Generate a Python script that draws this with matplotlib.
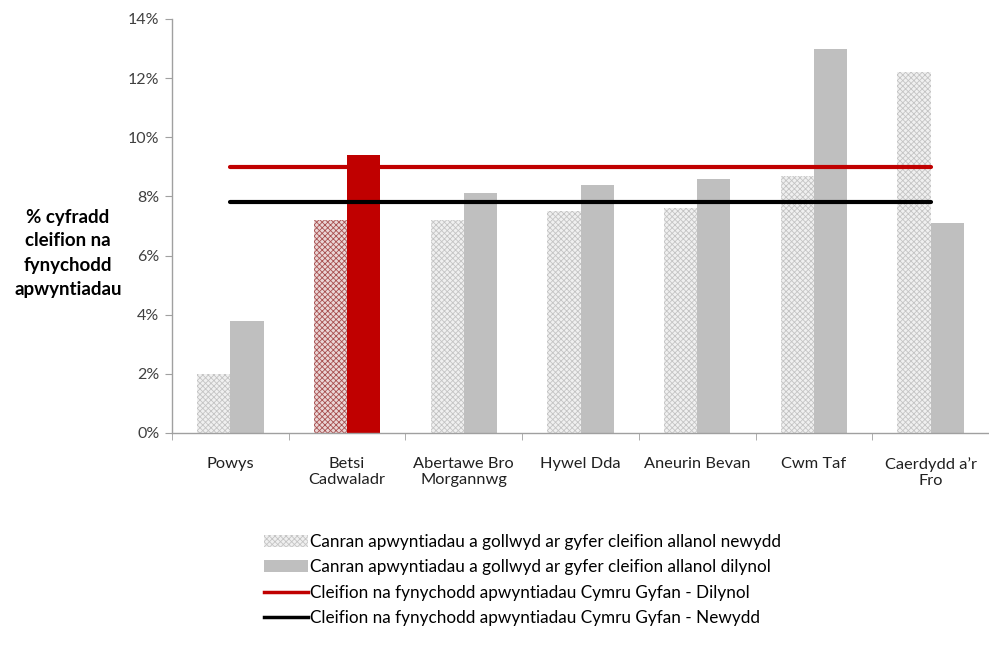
import matplotlib
matplotlib.use("Agg")
import matplotlib.pyplot as plt
from matplotlib.patches import Patch
from matplotlib.lines import Line2D
import numpy as np

categories = ["Powys", "Betsi\nCadwaladr", "Abertawe Bro\nMorgannwg", "Hywel Dda",
              "Aneurin Bevan", "Cwm Taf", "Caerdydd a\u2019r\nFro"]
new_pct = [2.0, 7.2, 7.2, 7.5, 7.6, 8.7, 12.2]
followup_pct = [3.8, 9.4, 8.1, 8.4, 8.6, 13.0, 7.1]
wales_followup = 9.0
wales_new = 7.8
yticks = [0, 2, 4, 6, 8, 10, 12, 14]
legend_labels = [
    "Canran apwyntiadau a gollwyd ar gyfer cleifion allanol newydd",
    "Canran apwyntiadau a gollwyd ar gyfer cleifion allanol dilynol",
    "Cleifion na fynychodd apwyntiadau Cymru Gyfan - Dilynol",
    "Cleifion na fynychodd apwyntiadau Cymru Gyfan - Newydd",
]
highlight = 1

plt.rcParams['font.family'] = ['Lato', 'DejaVu Sans']
plt.rcParams['hatch.linewidth'] = 0.6

W, H = 989, 652
fig = plt.figure(figsize=(W / 100, H / 100), dpi=100)
left, right, top, bottom = 172, 989, 19, 433
ax = fig.add_axes([left / W, 1 - bottom / H, (right - left) / W, (bottom - top) / H])

x = np.arange(len(categories))
bw = 0.285
for i in x:
    if i == highlight:
        fc_new, hc_new, fc_f = '#ead6d6', '#a85050', '#c00000'
    else:
        fc_new, hc_new, fc_f = '#f0f0f0', '#c4c4c4', '#bfbfbf'
    ax.bar(i - bw / 2, new_pct[i], bw, color=fc_new, edgecolor=hc_new, hatch='xxxxxx', linewidth=0)
    ax.bar(i + bw / 2, followup_pct[i], bw, color=fc_f, linewidth=0)

ax.plot([x[0], x[-1]], [wales_followup, wales_followup], color='#c00000', lw=3, solid_capstyle='round')
ax.plot([x[0], x[-1]], [wales_new, wales_new], color='black', lw=3, solid_capstyle='round')

ax.set_ylim(0, 14)
ax.set_xlim(-0.5, -0.5 + (right - left) / 117.6)
ax.set_yticks(yticks)
ax.set_yticklabels([f"{v}%" for v in yticks], fontsize=11.5, color='#404040')
ax.set_xticks(x)
ax.set_xticklabels(categories, fontsize=11.8, color='#202020', linespacing=1.25)
ax.set_xticks(np.arange(len(categories) + 1) - 0.5, minor=True)
ax.tick_params(axis='x', which='major', length=0, pad=17)
ax.tick_params(axis='x', which='minor', length=5, color='#a0a0a0', direction='out')
ax.tick_params(axis='y', length=5, color='#a0a0a0', direction='out', pad=4)
for s in ['top', 'right']:
    ax.spines[s].set_visible(False)
for s in ['left', 'bottom']:
    ax.spines[s].set_color('#a0a0a0')
    ax.spines[s].set_linewidth(1)

fig.text(68 / W, 1 - 253 / H, "% cyfradd\ncleifion na\nfynychodd\napwyntiadau",
         ha='center', va='center', fontsize=13.5, fontweight='bold', linespacing=1.5)

handles = [
    Patch(facecolor='#f0f0f0', edgecolor='#c4c4c4', hatch='xxxxxx', linewidth=0),
    Patch(facecolor='#bfbfbf', linewidth=0),
    Line2D([], [], color='#c00000', lw=2.5),
    Line2D([], [], color='black', lw=2.5),
]
fig.legend(handles, legend_labels, loc='upper left', bbox_to_anchor=(264 / W, 1 - 534 / H),
           frameon=False, fontsize=12.3, handlelength=2.6, handletextpad=0.1,
           labelspacing=0.55, borderaxespad=0, borderpad=0)

fig.savefig("out.png", dpi=100)
